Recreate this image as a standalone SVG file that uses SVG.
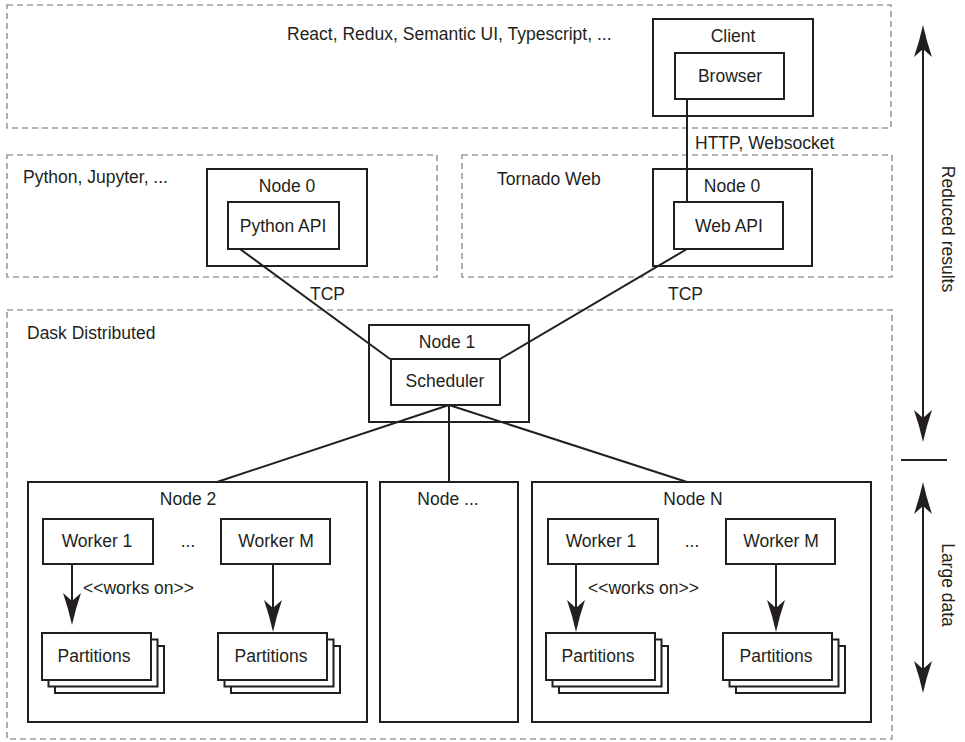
<svg xmlns="http://www.w3.org/2000/svg" width="965" height="742" viewBox="0 0 965 742">
<defs>
<style>
.dash{fill:none;stroke:#9d9d9d;stroke-width:1.6;stroke-dasharray:6 4}
.box{fill:#fff;stroke:#231f20;stroke-width:2}
.ln{fill:none;stroke:#231f20;stroke-width:2}
text{font-family:"Liberation Sans",Arial,Helvetica,sans-serif;font-size:17.5px;fill:#231f20}
.c{text-anchor:middle}
</style>
<marker id="ah" markerUnits="userSpaceOnUse" markerWidth="34" markerHeight="22" refX="9" refY="10" orient="auto-start-reverse" overflow="visible">
<path d="M32,10 Q16,6.5 0,1 L8,10 L0,19 Q16,13.5 32,10 Z" fill="#231f20"/>
</marker>
<g id="stack">
<rect class="box" x="13" y="13" width="109" height="47"/>
<rect class="box" x="6.5" y="6.5" width="109" height="47"/>
<rect class="box" x="0" y="0" width="109" height="47"/>
</g>
</defs>

<g id="layer-client">
<rect class="dash" x="7" y="5" width="884" height="123"/>
<text x="287" y="40">React, Redux, Semantic UI, Typescript, ...</text>
</g>
<g id="client">
<rect class="box" x="653" y="19" width="160" height="97"/>
<text class="c" x="733" y="42">Client</text>
</g>
<g id="browser">
<rect class="box" x="675" y="53" width="109" height="46"/>
<text class="c" x="730" y="82">Browser</text>
</g>

<g id="layer-python">
<rect class="dash" x="7" y="155" width="430" height="122"/>
<text x="23" y="183">Python, Jupyter, ...</text>
</g>
<g id="node0-python">
<rect class="box" x="207" y="169" width="160" height="97"/>
<text class="c" x="287" y="192">Node 0</text>
</g>
<g id="python-api">
<rect class="box" x="228" y="202" width="111" height="47"/>
<text class="c" x="283" y="232">Python API</text>
</g>

<g id="layer-tornado">
<rect class="dash" x="462" y="155" width="430" height="122"/>
<text x="497" y="185">Tornado Web</text>
</g>
<g id="node0-web">
<rect class="box" x="653" y="169" width="159" height="97"/>
<text class="c" x="732" y="192">Node 0</text>
</g>
<g id="web-api">
<rect class="box" x="674" y="202" width="109" height="47"/>
<text class="c" x="729" y="232">Web API</text>
</g>

<g id="layer-dask">
<rect class="dash" x="7" y="310" width="885" height="429"/>
<text x="27" y="339">Dask Distributed</text>
</g>
<g id="node1">
<rect class="box" x="369" y="325" width="160" height="97"/>
<text class="c" x="447" y="348">Node 1</text>
</g>
<g id="scheduler">
<rect class="box" x="391" y="359" width="109" height="46"/>
<text class="c" x="445" y="387">Scheduler</text>
</g>

<g id="node2">
<rect class="box" x="28" y="482" width="339" height="240"/>
<text class="c" x="188" y="505">Node 2</text>
<text class="c" x="188" y="547">...</text>
</g>
<g id="node-dots">
<rect class="box" x="380" y="482" width="138" height="240"/>
<text class="c" x="448" y="505">Node ...</text>
</g>
<g id="nodeN">
<rect class="box" x="532" y="482" width="339" height="240"/>
<text class="c" x="693" y="505">Node N</text>
<text class="c" x="692" y="547">...</text>
</g>

<g id="node2-worker1">
<rect class="box" x="43" y="519" width="110" height="45"/>
<text class="c" x="97" y="547">Worker 1</text>
</g>
<g id="node2-workerM">
<rect class="box" x="221" y="519" width="109" height="45"/>
<text class="c" x="276" y="547">Worker M</text>
</g>
<g id="node2-partitions1">
<use href="#stack" x="42" y="633"/>
<text class="c" x="94" y="662">Partitions</text>
</g>
<g id="node2-partitionsM">
<use href="#stack" x="218" y="633"/>
<text class="c" x="271" y="662">Partitions</text>
</g>

<g id="nodeN-worker1">
<rect class="box" x="548" y="519" width="110" height="45"/>
<text class="c" x="601" y="547">Worker 1</text>
</g>
<g id="nodeN-workerM">
<rect class="box" x="726" y="519" width="109" height="45"/>
<text class="c" x="781" y="547">Worker M</text>
</g>
<g id="nodeN-partitions1">
<use href="#stack" x="546" y="633"/>
<text class="c" x="598" y="662">Partitions</text>
</g>
<g id="nodeN-partitionsM">
<use href="#stack" x="723" y="633"/>
<text class="c" x="776" y="662">Partitions</text>
</g>

<g id="connectors">
<line class="ln" x1="687" y1="99" x2="687" y2="202"/>
<text x="695" y="149">HTTP, Websocket</text>
<line class="ln" x1="240" y1="249" x2="390" y2="359"/>
<text x="310" y="300">TCP</text>
<line class="ln" x1="687" y1="249" x2="500" y2="359"/>
<text x="668" y="300">TCP</text>
<line class="ln" x1="449" y1="405" x2="217" y2="482"/>
<line class="ln" x1="449" y1="405" x2="449" y2="482"/>
<line class="ln" x1="449" y1="405" x2="687" y2="482"/>
<line class="ln" x1="72" y1="564" x2="72" y2="602" marker-end="url(#ah)"/>
<text x="83" y="594">&lt;&lt;works on&gt;&gt;</text>
<line class="ln" x1="273" y1="564" x2="273" y2="609" marker-end="url(#ah)"/>
<line class="ln" x1="576" y1="564" x2="576" y2="609" marker-end="url(#ah)"/>
<text x="588" y="594">&lt;&lt;works on&gt;&gt;</text>
<line class="ln" x1="776" y1="564" x2="776" y2="609" marker-end="url(#ah)"/>
</g>

<g id="legend">
<line class="ln" x1="923" y1="48" x2="923" y2="419" marker-start="url(#ah)" marker-end="url(#ah)"/>
<line class="ln" x1="901" y1="460" x2="947" y2="460"/>
<line class="ln" x1="923" y1="505" x2="923" y2="670" marker-start="url(#ah)" marker-end="url(#ah)"/>
<text class="c" transform="translate(942,229) rotate(90)">Reduced results</text>
<text class="c" transform="translate(942,585) rotate(90)">Large data</text>
</g>
</svg>
